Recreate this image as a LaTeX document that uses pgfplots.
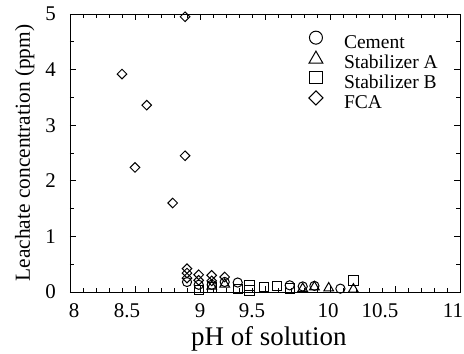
\documentclass[border=0pt]{standalone}
\usepackage{fontspec}
\setmainfont{Liberation Serif}
\usepackage{pgfplots}
\pgfplotsset{compat=1.18}
\newcommand{\sh}[2]{\makebox[0pt]{\kern#1bp #2}}
\begin{document}
\begin{tikzpicture}
\begin{axis}[
  name=ax,
  scale only axis, width=390bp, height=278bp,
  xmin=8, xmax=11, ymin=0, ymax=5,
  xtick={8,8.5,9,9.5,10,10.5,11},
  xticklabels={\sh{8}{8},\sh{-16}{8.5},\sh{0}{9},\sh{-26}{9.5},\sh{-4}{10},\sh{-30}{10.5},\sh{-14}{11}},
  ytick={0,1,2,3,4,5},
  yticklabels={0,1,2,3,4,5},
  minor x tick num=4, minor y tick num=1,
  tick align=inside,
  major tick length=6bp, minor tick length=4bp,
  axis line style={line width=0.9bp},
  every tick/.style={line width=0.6bp, black},
  xticklabel style={font=\fontsize{21}{21}\selectfont, anchor=base, inner sep=0pt, yshift=-26bp},
  yticklabel style={font=\fontsize{21}{21}\selectfont, anchor=east, inner sep=0pt, xshift=-14bp},
  xlabel={pH of solution},
  ylabel={Leachate concentration (ppm)},
  xlabel style={font=\fontsize{27}{27}\selectfont, at={(axis description cs:0.51,-0.1942)}, anchor=base, inner sep=0pt},
  ylabel style={font=\fontsize{21.5}{21.5}\selectfont, at={(axis description cs:-0.1026,0.5)}, anchor=base, inner sep=0pt},
  legend style={at={(axis description cs:0.612,0.939)}, anchor=north west, draw=none, fill=none,
    inner sep=0pt, row sep=0pt, column sep=21bp,
    nodes={font=\fontsize{19.6}{19.6}\selectfont, inner sep=0pt, text height=11.5bp, text depth=2.5bp}},
  legend cell align=left,
]
\addplot[only marks, mark=o, mark size=4.6bp, line width=1bp,
  legend image code/.code={\draw[line width=1bp, mark=o, mark size=6.5bp] plot coordinates {(0bp,6.5bp)};}]
  coordinates {(8.90,0.18) (8.99,0.13) (9.09,0.13) (9.19,0.18) (9.29,0.17) (9.69,0.12) (9.79,0.10) (9.88,0.11) (10.08,0.06)};
\addlegendentry{Cement}
\addplot[only marks, mark=triangle, mark size=5.6bp, line width=1bp,
  legend image code/.code={\draw[line width=1bp, mark=triangle, mark size=8bp] plot coordinates {(0bp,5bp)};}]
  coordinates {(9.09,0.10) (9.19,0.14) (9.79,0.06) (9.88,0.09) (9.99,0.07) (10.18,0.05)};
\addlegendentry{Stabilizer A}
\addplot[only marks, mark=square, mark size=4.7bp, line width=1bp,
  legend image code/.code={\draw[line width=1bp, mark=square, mark size=6.2bp] plot coordinates {(0bp,6.5bp)};}]
  coordinates {(8.99,0.04) (9.09,0.08) (9.29,0.05) (9.38,0.12) (9.38,0.03) (9.49,0.09) (9.59,0.11) (9.69,0.06) (10.18,0.21)};
\addlegendentry{Stabilizer B}
\addplot[only marks, mark=square, mark size=3.4bp, mark options={rotate=45}, line width=1bp,
  legend image code/.code={\draw[line width=1bp, mark=square, mark size=5bp, mark options={rotate=45}] plot coordinates {(0bp,6.5bp)};}]
  coordinates {(8.40,3.92) (8.50,2.24) (8.59,3.36) (8.79,1.60) (8.885,2.45) (8.885,4.95)
    (8.90,0.42) (8.90,0.34) (8.90,0.25) (8.99,0.31) (8.99,0.21) (9.09,0.30) (9.09,0.20) (9.19,0.27)};
\addlegendentry{FCA}
\end{axis}
\pgfresetboundingbox
\path[use as bounding box] ([shift={(-70bp,-62bp)}]ax.south west) rectangle ([shift={(4bp,14bp)}]ax.north east);
\end{tikzpicture}
\end{document}
